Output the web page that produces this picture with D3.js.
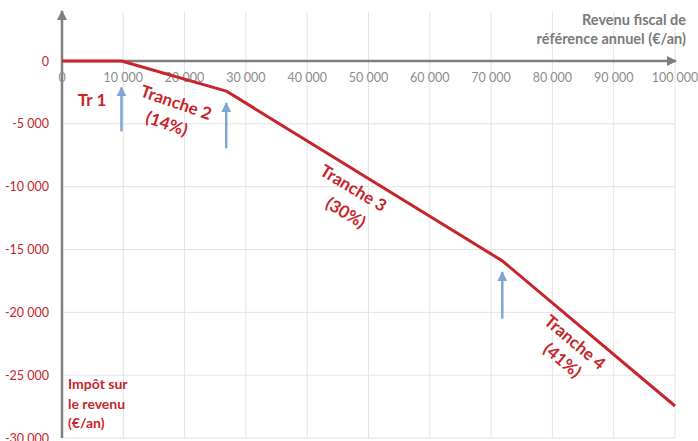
<!DOCTYPE html>
<html><head><meta charset="utf-8">
<script src="https://cdn.jsdelivr.net/npm/d3@7"></script>
<style>body{margin:0;background:#fff}svg{display:block}text{font-family:Lato,"Open Sans",sans-serif}</style>
</head><body><svg id="c" width="698" height="441"></svg>
<script>
const incomes = [0, 9700, 26791, 71826, 100000];
const taxes = [0, 0, -2393, -15903, -27454];
const xTicks = [0,10000,20000,30000,40000,50000,60000,70000,80000,90000,100000];
const yTicks = [0,-5000,-10000,-15000,-20000,-25000,-30000];
const arrowX = [9700, 26791, 71826];
const arrowTop = [-2100, -3350, -16800];
const arrowBottom = [-5600, -6950, -20500];
const bandLabels = [
  {lines:["Tr 1"], x:4900, y:-3550, rot:0, dx:0, dy:0},
  {lines:["Tranche 2","(14%)"], x:18300, y:-3750, rot:19, dx:-2, dy:23},
  {lines:["Tranche 3","(30%)"], x:47050, y:-10530, rot:31, dx:6, dy:25},
  {lines:["Tranche 4","(41%)"], x:83060, y:-22740, rot:40, dx:2, dy:22}
];
const xTitle = ["Revenu fiscal de","référence annuel (€/an)"];
const yTitle = ["Impôt sur","le revenu","(€/an)"];

const red = "#c8242b", grey = "#7f7f7f", grid = "#e3e3e3", blue = "#80a7d1";
const svg = d3.select("#c");
const x = d3.scaleLinear().domain([0,100000]).range([62,675]);
const y = d3.scaleLinear().domain([0,-30000]).range([61,438]);
const loc = d3.formatLocale({decimal:",", thousands:"\u00a0", grouping:[3], currency:["","€"], minus:"-"});
const fmt = loc.format(",d");

// grid
svg.append("g").selectAll("line").data(xTicks.slice(1)).join("line")
  .attr("x1",d=>x(d)).attr("x2",d=>x(d)).attr("y1",12).attr("y2",438)
  .attr("stroke",grid).attr("stroke-width",1);
svg.append("g").selectAll("line").data(yTicks.slice(1)).join("line")
  .attr("x1",62).attr("x2",675).attr("y1",d=>y(d)).attr("y2",d=>y(d))
  .attr("stroke",grid).attr("stroke-width",1);

// axes
const defs = svg.append("defs");
defs.append("marker").attr("id","ah").attr("viewBox","0 0 10 10").attr("refX",9).attr("refY",5)
  .attr("markerWidth",4).attr("markerHeight",4).attr("orient","auto")
  .append("path").attr("d","M0,0L10,5L0,10Z").attr("fill",grey);
defs.append("marker").attr("id","ab").attr("viewBox","0 0 10 10").attr("refX",9).attr("refY",5)
  .attr("markerWidth",4).attr("markerHeight",4).attr("orient","auto")
  .append("path").attr("d","M0,0L10,5L0,10Z").attr("fill",blue);

svg.append("line").attr("x1",62).attr("x2",62).attr("y1",438).attr("y2",11)
  .attr("stroke",grey).attr("stroke-width",2.5).attr("marker-end","url(#ah)");
svg.append("line").attr("x1",62).attr("x2",676).attr("y1",y(0)).attr("y2",y(0))
  .attr("stroke",grey).attr("stroke-width",2.5).attr("marker-end","url(#ah)");

// tick labels
svg.append("g").selectAll("text").data(xTicks).join("text")
  .attr("x",d=>x(d)).attr("y",82).attr("text-anchor","middle")
  .attr("font-size",12.5).attr("fill","#8c8c8c").text(d=>fmt(d));
svg.append("g").selectAll("text").data(yTicks).join("text")
  .attr("x",49).attr("y",d=>y(d)+4.5).attr("text-anchor","end")
  .attr("font-size",12.5).attr("fill",red).text(d=>fmt(d));

// line
const line = d3.line().x((d,i)=>x(incomes[i])).y(d=>y(d));
svg.append("path").attr("d",line(taxes)).attr("fill","none")
  .attr("stroke",red).attr("stroke-width",3).attr("stroke-linejoin","round");

// arrows
svg.append("g").selectAll("line").data(arrowX).join("line")
  .attr("x1",d=>x(d)).attr("x2",d=>x(d))
  .attr("y1",(d,i)=>y(arrowBottom[i])).attr("y2",(d,i)=>y(arrowTop[i]))
  .attr("stroke",blue).attr("stroke-width",2.5).attr("marker-end","url(#ab)");

// band labels
bandLabels.forEach(b=>{
  const t = svg.append("text").attr("transform",`translate(${x(b.x)},${y(b.y)}) rotate(${b.rot})`)
    .attr("text-anchor","middle").attr("font-size",17).attr("font-weight","bold").attr("fill",red);
  b.lines.forEach((l,i)=>t.append("tspan").attr("x",i?b.dx:0).attr("dy",i?b.dy:0).text(l));
});

// titles
const xt = svg.append("text").attr("text-anchor","end").attr("font-size",14.5).attr("font-weight","bold").attr("fill","#7a7a7a");
xTitle.forEach((l,i)=>xt.append("tspan").attr("x",686).attr("y",25+i*19).text(l));
const yt = svg.append("text").attr("font-size",14).attr("font-weight","bold").attr("fill",red);
yTitle.forEach((l,i)=>yt.append("tspan").attr("x",68).attr("y",389+i*19.5).text(l));
</script></body></html>
